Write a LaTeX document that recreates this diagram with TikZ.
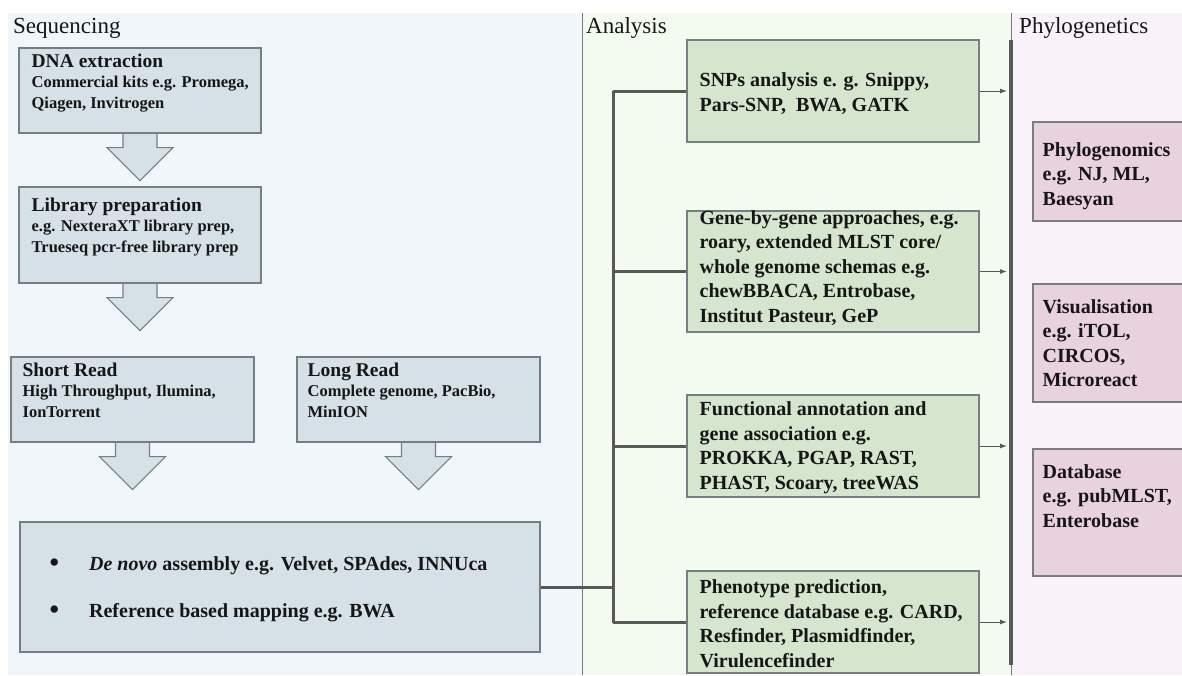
\documentclass[tikz,border=0pt]{standalone}
\usepackage{fontspec}
\setmainfont{Liberation Serif}
\usetikzlibrary{positioning,arrows.meta}

\definecolor{seqpanel}{RGB}{240,246,249}
\definecolor{anapanel}{RGB}{243,250,240}
\definecolor{phypanel}{RGB}{249,242,249}
\definecolor{seqfill}{RGB}{213,225,231}
\definecolor{anafill}{RGB}{213,229,206}
\definecolor{phyfill}{RGB}{232,210,222}
\definecolor{edge}{RGB}{118,126,130}
\definecolor{trunkc}{RGB}{88,88,88}
\definecolor{ink}{RGB}{22,22,22}

\newcommand\bigdot{\makebox[39.5pt][l]{\raisebox{-1.5pt}{\fontsize{27}{27}\selectfont\textbullet}}}

\begin{document}
\begin{tikzpicture}[x=1pt, y=-1pt, >={Latex[length=7pt,width=5pt]},
  box/.style={draw=edge, line width=1.1pt, inner sep=0pt},
  seqbox/.style={box, fill=seqfill},
  anabox/.style={box, fill=anafill},
  phybox/.style={box, fill=phyfill},
  % texts are hung on the baseline of their last line
  txt/.style={anchor=base west, align=left, inner sep=0pt, text=ink,
    font=\bfseries\fontsize{16.5}{20.5}\selectfont},
  bigtxt/.style={txt, font=\bfseries\fontsize{20}{24.5}\selectfont},
  head/.style={anchor=base west, inner sep=0pt, text=ink,
    font=\fontsize{23}{27}\selectfont},
  trunk/.style={draw=trunkc, line width=3pt, line join=round},
  feed/.style={draw=trunkc, line width=1pt, ->},
  divider/.style={draw=trunkc!80, line width=0.8pt},
  downarrow/.pic={\draw[draw=edge, line width=1.1pt, fill=seqfill]
    (-17,0.6) -- (-17,14) -- (-33,14) -- (0,47) -- (33,14) -- (17,14) -- (17,0.6);}
]
  % page and the three column panels
  \useasboundingbox (0,0) rectangle (1182,675);
  \clip (0,0) rectangle (1182,675);
  \fill[white] (0,0) rectangle (1182,675);
  \fill[seqpanel] (8,13) rectangle (582,675);
  \fill[anapanel] (582,13) rectangle (1011,675);
  \fill[phypanel] (1011,13) rectangle (1182,675);
  \draw[divider] (582,13) -- (582,675);
  \draw[divider] (1011,13) -- (1011,675);
  \draw[draw=trunkc, line width=4pt] (1011,40) -- (1011,665);

  \node[head] (seqhead) at (13,33) {Sequencing};
  \node[head] (anahead) at (586,33) {Analysis};
  \node[head] (phyhead) at (1019,33) {Phylogenetics};

  % Sequencing column
  \node[seqbox, minimum width=242, minimum height=85] (dna) at (140,90.5) {};
  \node[seqbox, minimum width=242, minimum height=96] (lib) at (140,235) {};
  \node[seqbox, minimum width=243, minimum height=85] (short) at (132.5,399.5) {};
  \node[seqbox, minimum width=243, minimum height=85] (long) at (418.5,399.5) {};
  \node[seqbox, minimum width=520, minimum height=130] (asm) at (280,587) {};

  \node[txt] (dnatxt) at ([shift={(13,61)}]dna.north west)
    {{\fontsize{19.5}{20.5}\selectfont DNA extraction}\\
     Commercial kits e.g. Promega,\\ Qiagen, Invitrogen};
  \node[txt] (libtxt) at ([shift={(13,66)}]lib.north west)
    {{\fontsize{19.5}{20.5}\selectfont Library preparation}\\
     e.g. NexteraXT library prep,\\ Trueseq pcr-free library prep};
  \node[txt] (shorttxt) at ([shift={(12,61)}]short.north west)
    {{\fontsize{19.5}{20.5}\selectfont Short Read}\\
     High Throughput, Ilumina,\\ IonTorrent};
  \node[txt] (longtxt) at ([shift={(11,61)}]long.north west)
    {{\fontsize{19.5}{20.5}\selectfont Long Read}\\
     Complete genome, PacBio,\\ MinION};
  \node[txt, font=\bfseries\fontsize{20}{47}\selectfont] (asmtxt)
    at ([shift={(30,96)}]asm.north west)
    {\bigdot\textit{De novo} assembly e.g. Velvet, SPAdes, INNUca\\
     \bigdot Reference based mapping e.g. BWA};

  \pic at (dna.south) {downarrow};
  \pic at (lib.south) {downarrow};
  \pic at (short.south) {downarrow};
  \pic at (long.south) {downarrow};

  % Analysis column
  \node[anabox, minimum width=292, minimum height=102] (snp) at (833,91) {};
  \node[anabox, minimum width=292, minimum height=121] (gene) at (833,271.5) {};
  \node[anabox, minimum width=292, minimum height=102] (func) at (833,446) {};
  \node[anabox, minimum width=292, minimum height=102] (pheno) at (833,622) {};

  \node[bigtxt] (snptxt) at ([shift={(13,72)}]snp.north west)
    {SNPs analysis e. g. Snippy,\\ Pars-SNP,\ \ BWA, GATK};
  \node[bigtxt] (genetxt) at ([shift={(13,112)}]gene.north west)
    {Gene-by-gene approaches, e.g.\\ roary, extended MLST core/\\
     whole genome schemas e.g.\\ chewBBACA, Entrobase,\\ Institut Pasteur, GeP};
  \node[bigtxt] (functxt) at ([shift={(13,95)}]func.north west)
    {Functional annotation and\\ gene association e.g.\\
     PROKKA, PGAP, RAST,\\ PHAST, Scoary, treeWAS};
  \node[bigtxt] (phenotxt) at ([shift={(13,97)}]pheno.north west)
    {Phenotype prediction,\\ reference database e.g. CARD,\\
     Resfinder, Plasmidfinder,\\ Virulencefinder};

  % bracket from the assembly box to every analysis box
  \coordinate (hub) at (613,587);
  \coordinate (rail) at (1007,0);
  \draw[trunk] (asm.east) -- (hub);
  \draw[trunk] (snp.west) -| (hub) |- (pheno.west);
  \draw[trunk] (gene.west) -- (gene.west -| hub);
  \draw[trunk] (func.west) -- (func.west -| hub);
  \foreach \b in {snp,gene,func,pheno}
    \draw[feed] (\b.east) -- (\b.east -| rail);

  % Phylogenetics column
  \node[phybox, minimum width=157, minimum height=99] (phylo) at (1111.5,171.5) {};
  \node[phybox, minimum width=157, minimum height=118] (vis) at (1111.5,343) {};
  \node[phybox, minimum width=157, minimum height=127] (db) at (1111.5,512.5) {};

  \node[bigtxt] (phylotxt) at ([shift={(10,84)}]phylo.north west)
    {Phylogenomics\\ e.g. NJ, ML,\\ Baesyan};
  \node[bigtxt] (vistxt) at ([shift={(10,103.5)}]vis.north west)
    {Visualisation\\ e.g. iTOL,\\ CIRCOS,\\ Microreact};
  \node[bigtxt] (dbtxt) at ([shift={(10,79)}]db.north west)
    {Database\\ e.g. pubMLST,\\ Enterobase};
\end{tikzpicture}
\end{document}
